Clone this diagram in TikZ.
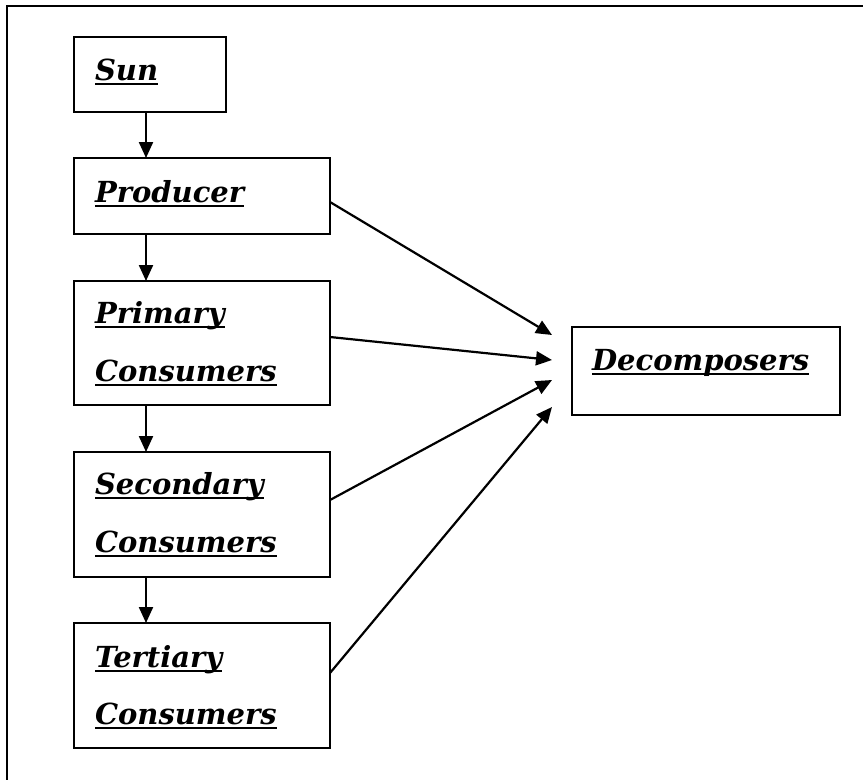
\documentclass[tikz,border=0pt]{standalone}
\usepackage{fontspec}
\setmainfont{DejaVu Serif}
\usetikzlibrary{arrows.meta}
\begin{document}
\begin{tikzpicture}[x=1pt,y=-1pt,
  box/.style={draw,line width=2.2pt,rectangle,inner sep=0pt,outer sep=0pt},
  lbl/.style={anchor=base west,inner sep=0pt,outer sep=0pt,
    font=\fontsize{29}{33}\selectfont\bfseries\itshape},
  ulrule/.style={line width=2pt},
  arr/.style={line width=2.2pt,-{Triangle[length=16pt,width=14pt]}},
  frame/.style={line width=2.6pt}]
\useasboundingbox (0,0) rectangle (863,780);

% outer frame (top and left edges)
\coordinate (ftl) at (7,6);
\coordinate (ftr) at (863,6);
\coordinate (fbl) at (7,780);
\draw[frame] (ftr) -- (ftl) -- (fbl);

% boxes of the chain
\node[box,minimum width=152pt,minimum height=75pt]  (sun)  at (150,74.5) {};
\node[box,minimum width=256pt,minimum height=76pt]  (prod) at (202,196) {};
\node[box,minimum width=256pt,minimum height=124pt] (prim) at (202,343) {};
\node[box,minimum width=256pt,minimum height=125pt] (sec)  at (202,514.5) {};
\node[box,minimum width=256pt,minimum height=125pt] (ter)  at (202,685.5) {};
\node[box,minimum width=268pt,minimum height=88pt]  (dec)  at (706,371) {};

% labels
\node[lbl] (sunA)  at (95,80)  {Sun};
\node[lbl] (prodA) at (95,202) {Producer};
\node[lbl] (primA) at (95,323) {Primary};
\node[lbl] (primB) at (95,381) {Consumers};
\node[lbl] (secA)  at (95,494) {Secondary};
\node[lbl] (secB)  at (95,552) {Consumers};
\node[lbl] (terA)  at (95,667) {Tertiary};
\node[lbl] (terB)  at (95,724) {Consumers};
\node[lbl] (decA)  at (592,370) {Decomposers};

% underline every label just below its baseline
\foreach \n in {sunA,prodA,primA,primB,secA,secB,terA,terB,decA}
  \draw[ulrule] ([yshift=-4pt]\n.base west) -- ([yshift=-4pt]\n.base east);

% vertical chain of arrows
\coordinate (spine) at (146,0);
\draw[arr] (sun.south -| spine)  -- (prod.north -| spine);
\draw[arr] (prod.south -| spine) -- (prim.north -| spine);
\draw[arr] (prim.south -| spine) -- (sec.north -| spine);
\draw[arr] (sec.south -| spine)  -- (ter.north -| spine);

% arrows into the decomposers
\draw[arr] ([yshift=-6pt]prod.east)   -- ([xshift=-20pt,yshift=36pt]dec.west);
\draw[arr] ([yshift=6pt]prim.east)    -- ([xshift=-20pt,yshift=11pt]dec.west);
\draw[arr] ([yshift=14.5pt]sec.east)  -- ([xshift=-20pt,yshift=-9pt]dec.west);
\draw[arr] ([yshift=12.5pt]ter.east)  -- ([xshift=-20pt,yshift=-36pt]dec.west);
\end{tikzpicture}
\end{document}
